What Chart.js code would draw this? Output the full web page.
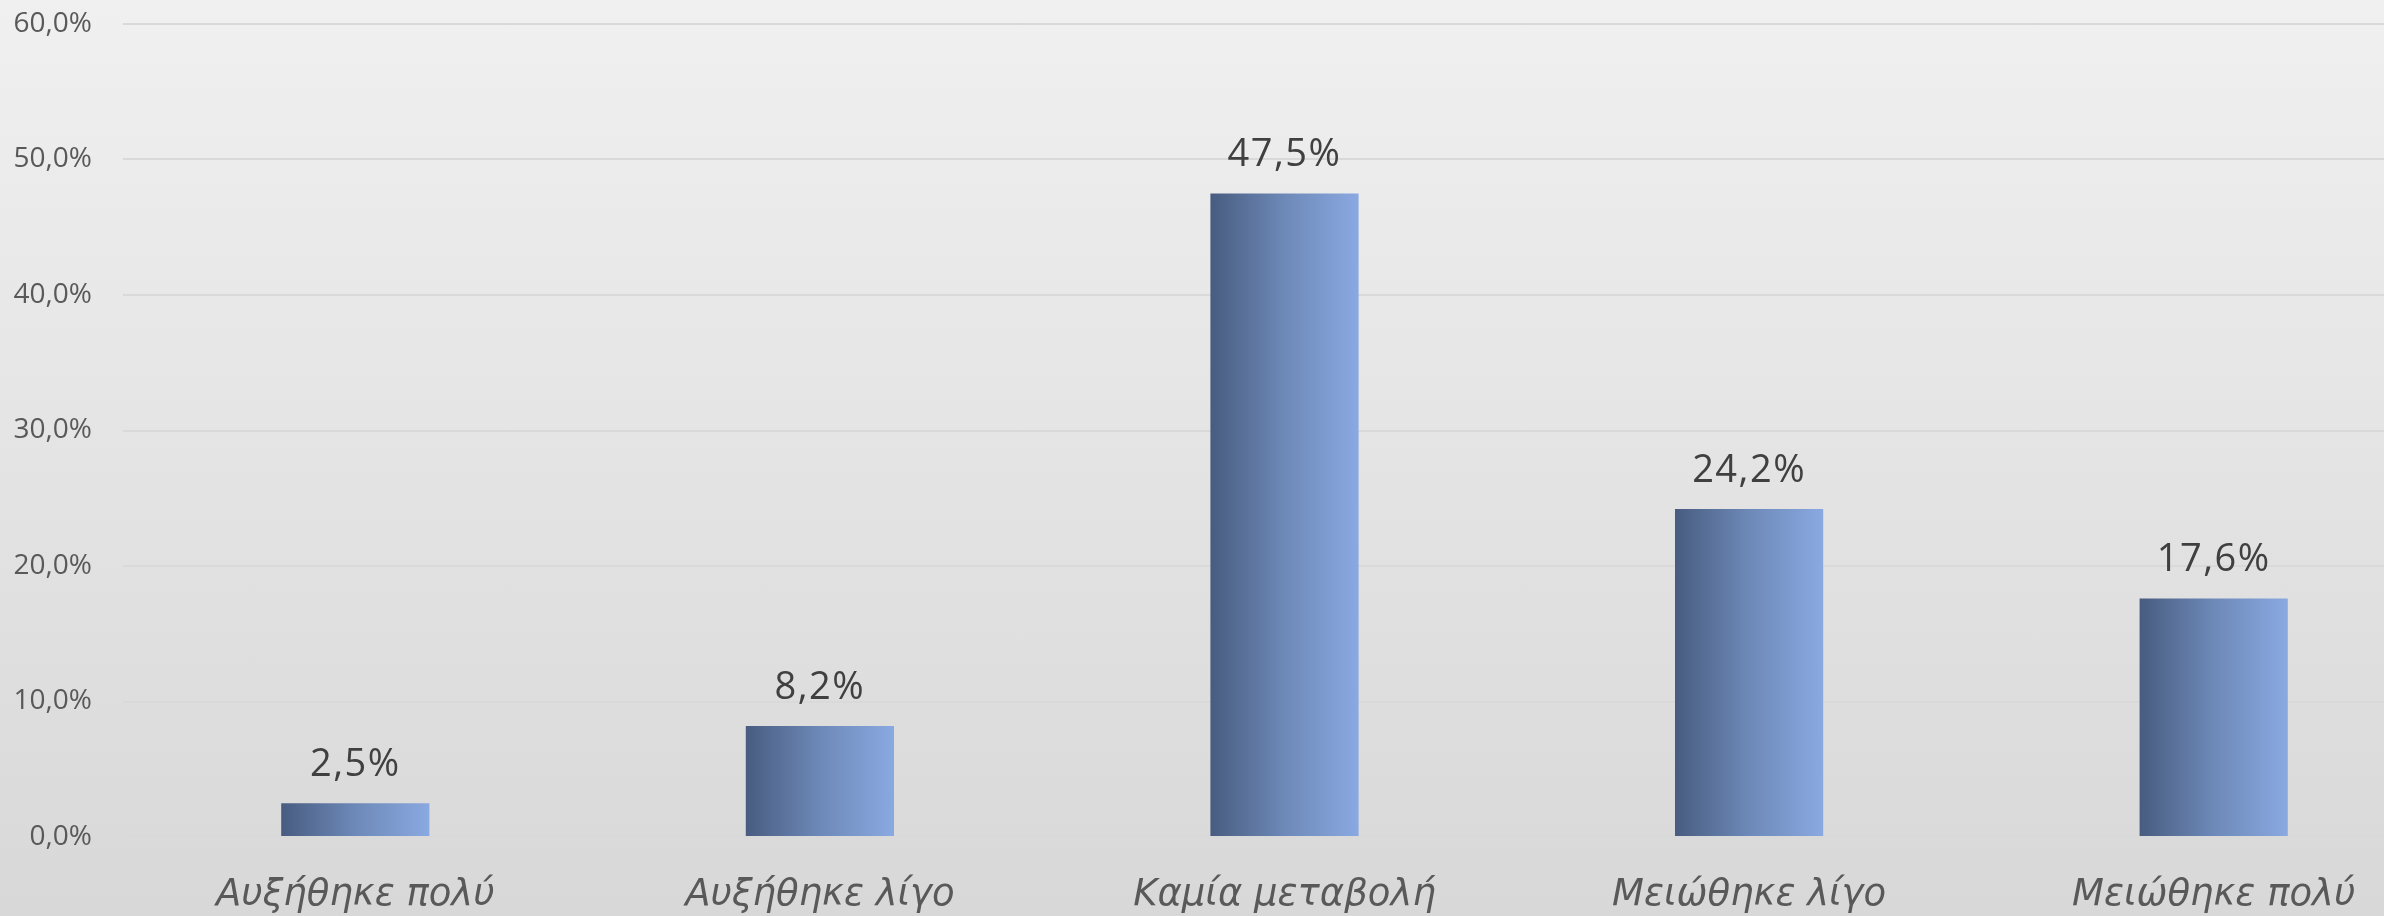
<!DOCTYPE html>
<html>
<head>
<meta charset="utf-8">
<script src="https://cdn.jsdelivr.net/npm/chart.js@4"></script>
<style>
  html, body { margin: 0; padding: 0; overflow: hidden; }
  body { width: 2384px; height: 916px; background: linear-gradient(to bottom, #f0f0f0 0%, #d8d8d8 100%); }
  #wrap { width: 2384px; height: 916px; overflow: hidden; }
  #changeChart { display: block; }
</style>
</head>
<body>
<div id="wrap"><canvas id="changeChart" width="2446" height="916"></canvas></div>
<script>
const categories = ["Αυξήθηκε πολύ", "Αυξήθηκε λίγο", "Καμία μεταβολή", "Μειώθηκε λίγο", "Μειώθηκε πολύ"];
const percentValues = [2.5, 8.2, 47.5, 24.2, 17.6];
const yTicks = [0, 10, 20, 30, 40, 50, 60];

const BAR_FRACTION = 0.319;

function fmt(v, digits) {
    return v.toFixed(digits).replace(".", ",") + "%";
}

// each bar gets its own left-to-right gradient
function barFill(c) {
    const chart = c.chart;
    const xs = chart.scales.x;
    if (!xs || !chart.chartArea) return "#6e8ab8";
    const cx = xs.getPixelForValue(c.dataIndex);
    const half = xs.width / categories.length * BAR_FRACTION / 2;
    const g = chart.ctx.createLinearGradient(cx - half, 0, cx + half, 0);
    g.addColorStop(0, "#485c80");
    g.addColorStop(0.5, "#6d89b8");
    g.addColorStop(1, "#8aa9e1");
    return g;
}

// value labels above the bars
const valueLabels = {
    id: "valueLabels",
    afterDatasetsDraw(chart) {
        const ctx = chart.ctx;
        ctx.save();
        ctx.font = "38px 'Open Sans'";
        ctx.fillStyle = "#404040";
        ctx.textAlign = "center";
        ctx.textBaseline = "middle";
        if ("letterSpacing" in ctx) ctx.letterSpacing = "1.5px";
        chart.getDatasetMeta(0).data.forEach((bar, i) => {
            ctx.fillText(fmt(percentValues[i], 1), bar.x, bar.y - 38);
        });
        ctx.restore();
    }
};

new Chart(document.getElementById("changeChart"), {
    type: "bar",
    data: {
        labels: categories,
        datasets: [{
            data: percentValues,
            backgroundColor: barFill,
            borderWidth: 0,
            categoryPercentage: 1,
            barPercentage: BAR_FRACTION
        }]
    },
    options: {
        responsive: false,
        animation: false,
        layout: { padding: { top: 24, right: 0, bottom: 0, left: 0 } },
        plugins: {
            legend: { display: false },
            tooltip: { enabled: false }
        },
        scales: {
            x: {
                afterFit: scale => { scale.height = 79; },
                grid: { display: false, drawTicks: false },
                border: { display: false },
                ticks: {
                    color: "#595959",
                    padding: 36,
                    maxRotation: 0,
                    autoSkip: false,
                    font: { family: "'DejaVu Sans'", size: 37, style: "italic" }
                }
            },
            y: {
                min: 0,
                max: 60,
                afterBuildTicks: scale => { scale.ticks = yTicks.map(v => ({ value: v })); },
                afterFit: scale => {
                    scale.width = 123;
                    // tick padding is only meant to push labels left, not down from the top
                    scale.paddingTop = 17;
                    scale.paddingBottom = 17;
                },
                grid: { color: "#d9d9d9", lineWidth: 2, drawTicks: false },
                border: { display: false },
                ticks: {
                    color: "#595959",
                    padding: 31,
                    font: { family: "'Open Sans'", size: 28 },
                    callback: v => fmt(v, 1)
                }
            }
        }
    },
    plugins: [valueLabels]
});
</script>
</body>
</html>
